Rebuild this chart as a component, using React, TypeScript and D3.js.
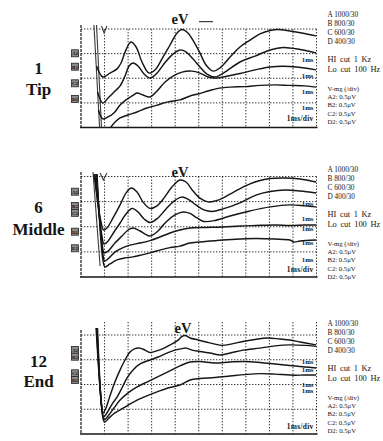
import React from "react";
import * as d3 from "d3";

const W = 383;
const H = 441;

// x: time in ms (1 ms/div, 10 divisions); y: amplitude in divisions (0.5 µV/div)
const xTicks = [0, 1, 2, 3, 4, 5, 6, 7, 8, 9, 10];
const yTicks = [0, 1, 2, 3, 4];

const legendLines = [
  "A 1000/30", "B 800/30", "C 600/30", "D 400/30",
  "HI cut 1 Kz", "Lo cut 100 Hz",
  "V-mg (/div)", "A2: 0.5μV", "B2: 0.5μV", "C2: 0.5μV", "D2: 0.5μV",
];
const panelNumbers = ["1", "6", "12"];
const panelNames = ["Tip", "Middle", "End"];
const msLabel = "1ms";
const msDivLabel = "1ms/div";
const peakLabel = "eV";

type P = [number, number];

// ---- Panel 1 : Tip ----
const tipA: P[] = [[0.66,2.50],[0.93,2.05],[1.23,2.21],[1.53,2.38],[1.70,2.62],[1.91,3.15],[2.12,3.47],[2.34,3.27],[2.59,2.66],[2.89,2.21],[3.18,2.38],[3.48,2.86],[3.78,3.35],[4.08,3.84],[4.29,3.98],[4.54,3.84],[4.80,3.47],[5.05,3.03],[5.31,2.54],[5.61,2.29],[5.90,2.42],[6.33,2.86],[6.75,3.27],[7.18,3.55],[7.60,3.80],[8.03,3.94],[8.37,3.98],[8.87,3.92],[9.38,3.84],[9.98,3.72]];
const tipB: P[] = [[0.70,1.44],[0.93,0.99],[1.15,1.20],[1.40,1.44],[1.66,1.69],[1.87,2.09],[2.04,2.50],[2.21,2.62],[2.42,2.50],[2.68,2.17],[2.93,2.01],[3.23,2.21],[3.52,2.58],[3.86,2.94],[4.20,3.15],[4.46,3.07],[4.76,2.78],[5.05,2.46],[5.35,2.17],[5.69,2.05],[6.11,2.25],[6.75,2.66],[7.39,2.90],[8.03,3.15],[8.58,3.25],[9.30,3.17],[9.98,3.03]];
const tipC: P[] = [[0.74,0.71],[0.93,0.35],[1.15,0.43],[1.40,0.59],[1.66,0.91],[1.91,1.12],[2.17,1.28],[2.38,1.40],[2.63,1.32],[2.93,1.24],[3.23,1.48],[3.57,1.85],[3.91,2.09],[4.29,2.25],[4.71,2.29],[5.05,2.21],[5.39,2.05],[5.73,2.01],[6.24,2.09],[6.75,2.19],[7.39,2.34],[8.03,2.46],[8.87,2.48],[9.51,2.42],[9.98,2.34]];
const tipD: P[] = [[1.27,0.02],[1.49,0.26],[1.66,0.39],[2.00,0.51],[2.38,0.63],[2.80,0.79],[3.23,0.91],[3.69,1.04],[4.20,1.12],[4.63,1.28],[4.97,1.36],[5.39,1.48],[5.77,1.58],[6.33,1.64],[6.96,1.66],[7.60,1.71],[8.24,1.73],[8.87,1.71],[9.51,1.69],[9.98,1.64]];
const tipArtifact1: P[] = [[0.55,4.16],[0.79,0]];
const tipArtifact2: P[] = [[0.66,4.16],[0.87,0]];
const tipSpike: P[] = [[0.87,4.12],[0.98,3.84],[1.10,4.12]];

// ---- Panel 2 : Middle ----
const midA: P[] = [[0.55,4.10],[0.85,2.19],[0.96,1.87],[1.10,1.95],[1.36,2.35],[1.66,2.87],[1.91,3.34],[2.14,3.54],[2.38,3.38],[2.63,2.99],[2.93,2.73],[3.23,2.83],[3.52,3.14],[3.86,3.58],[4.20,3.86],[4.46,3.78],[4.76,3.42],[5.05,3.14],[5.39,2.99],[5.82,3.06],[6.33,3.30],[6.96,3.62],[7.52,3.82],[8.03,3.92],[8.66,3.94],[9.30,3.90],[9.98,3.78]];
const midB: P[] = [[0.59,4.10],[0.89,1.63],[0.98,1.31],[1.15,1.43],[1.40,1.79],[1.66,2.15],[1.91,2.51],[2.17,2.73],[2.42,2.59],[2.68,2.31],[2.93,2.17],[3.27,2.35],[3.61,2.71],[3.95,3.02],[4.27,3.18],[4.54,3.10],[4.88,2.87],[5.22,2.67],[5.56,2.61],[6.03,2.71],[6.75,2.95],[7.43,3.26],[8.03,3.40],[8.66,3.46],[9.30,3.42],[9.98,3.34]];
const midC: P[] = [[0.64,4.10],[0.91,1.23],[0.98,0.96],[1.15,1.03],[1.44,1.35],[1.74,1.63],[2.00,1.87],[2.21,1.95],[2.51,1.83],[2.93,1.63],[3.27,1.83],[3.61,2.19],[3.99,2.47],[4.33,2.59],[4.63,2.53],[4.93,2.35],[5.22,2.21],[5.69,2.25],[6.33,2.43],[7.18,2.63],[8.03,2.79],[8.87,2.87],[9.51,2.83],[9.98,2.79]];
const midD: P[] = [[0.66,4.10],[0.93,0.92],[1.00,0.64],[1.19,0.76],[1.44,0.99],[1.74,1.15],[2.08,1.27],[2.51,1.35],[2.93,1.45],[3.35,1.59],[3.78,1.75],[4.20,1.87],[4.63,1.95],[5.27,1.97],[6.03,1.99],[6.75,2.03],[7.43,2.05],[8.24,2.07],[8.87,2.05],[9.51,2.07],[9.98,2.07]];
const midE: P[] = [[0.68,4.10],[0.93,0.68],[1.02,0.40],[1.23,0.52],[1.53,0.68],[1.87,0.76],[2.21,0.80],[2.59,0.88],[2.93,0.96],[3.35,1.07],[3.78,1.17],[4.20,1.23],[4.63,1.35],[5.27,1.41],[6.03,1.47],[6.75,1.51],[7.43,1.53],[8.24,1.51],[8.87,1.47],[9.04,1.39],[9.30,1.43],[9.98,1.47]];
const midArtifact: P[] = [[0.51,4.18],[0.81,0.44]];
const midSpike: P[] = [[0.81,4.14],[0.95,3.86],[1.10,4.14]];

// ---- Panel 3 : End ----
const endA: P[] = [[0.64,4.28],[0.85,1.37],[0.93,0.85],[1.06,1.05],[1.23,1.54],[1.44,2.10],[1.66,2.59],[1.87,2.99],[2.08,3.31],[2.29,3.45],[2.51,3.47],[2.72,3.39],[2.93,3.29],[3.18,3.35],[3.48,3.45],[3.78,3.60],[4.08,3.76],[4.29,3.94],[4.42,3.98],[4.63,3.88],[4.97,3.80],[5.31,3.72],[5.65,3.64],[5.99,3.58],[6.41,3.64],[6.88,3.74],[7.39,3.82],[7.90,3.88],[8.45,3.84],[8.87,3.80],[9.30,3.72],[9.98,3.60]];
const endB: P[] = [[0.66,4.28],[0.87,1.21],[0.96,0.69],[1.10,0.85],[1.32,1.21],[1.53,1.49],[1.74,1.86],[1.95,2.26],[2.21,2.59],[2.51,2.83],[2.93,2.99],[3.27,3.11],[3.65,3.27],[3.99,3.39],[4.29,3.45],[4.46,3.47],[4.71,3.39],[5.05,3.33],[5.48,3.27],[5.94,3.19],[6.41,3.29],[6.88,3.39],[7.60,3.47],[8.24,3.56],[8.87,3.60],[9.51,3.58],[9.98,3.54]];
const endC: P[] = [[0.68,4.28],[0.89,0.97],[0.98,0.57],[1.15,0.73],[1.40,1.05],[1.66,1.37],[2.00,1.66],[2.38,1.90],[2.80,2.10],[3.23,2.30],[3.69,2.51],[4.20,2.75],[4.63,2.91],[5.05,2.93],[5.69,2.87],[6.33,2.91],[6.96,2.93],[7.60,2.89],[8.24,2.83],[8.87,2.77],[9.51,2.71],[9.98,2.67]];
const endD: P[] = [[0.70,4.28],[0.91,0.81],[1.00,0.48],[1.19,0.65],[1.44,0.85],[1.66,0.97],[2.00,1.17],[2.38,1.37],[2.80,1.54],[3.23,1.70],[3.69,1.86],[4.20,1.98],[4.63,2.18],[5.05,2.24],[5.69,2.28],[6.33,2.34],[6.96,2.40],[7.60,2.44],[8.24,2.42],[8.87,2.38],[9.51,2.38],[9.98,2.38]];

const tipTraces = [tipA, tipB, tipC, tipD];
const midTraces = [midA, midB, midC, midD, midE];
const endTraces = [endA, endB, endC, endD];

const tipChannels = ["A2", "B2", "C2", "D2"];
const midChannels = ["A2", "B2", "C2", "D2", "E2"];
const endChannels = ["A2", "B2", "C2", "D2"];

// ---- layout (pixels) ----
const panels = [
  {
    top: 29, bottom: 127.5, traces: tipTraces, artifacts: [tipArtifact1, tipArtifact2, tipSpike],
    channels: tipChannels, boxY: [53.3, 66.7, 83.3, 99],
    msY: [60, 75.7, 91.7, 107.3], msDivY: 118.3,
    eV: [180, 24], legendY: 14, numY: 74, nameY: 95, gridExtra: 0, axisTop: 25,
  },
  {
    top: 176.5, bottom: 277, traces: midTraces, artifacts: [midArtifact, midSpike],
    channels: midChannels, boxY: [191.7, 206, 212.8, 231.7, 248.3],
    msY: [203.3, 219, 228.3, 243, 259.3], msDivY: 269,
    eV: [180, 176.5], legendY: 169, numY: 213.3, nameY: 234.5, gridExtra: 0, axisTop: 172,
  },
  {
    top: 335, bottom: 434, traces: endTraces, artifacts: [],
    channels: endChannels, boxY: [350, 356.7, 373.3, 380],
    msY: [361.7, 370, 385, 391], msDivY: 426.7,
    eV: [183, 332.5], legendY: 323.3, numY: 367.3, nameY: 386.7, gridExtra: 13, axisTop: 330,
  },
];

const legendOffsets = [0, 9.2, 18.3, 27.4, 45, 55, 74.2, 82.6, 90.7, 99.2, 107.4];
const legendSizes = [7.3, 7.3, 7.3, 7.3, 8.4, 8.4, 6.7, 6.7, 6.7, 6.7, 6.7];

const ink = "#161616";
const gridColor = "#333";
const serif = "'Liberation Serif', 'DejaVu Serif', serif";

export default function App() {
  const x = d3.scaleLinear().domain([0, 10]).range([81, 316.5]);

  return (
    <svg
      width={W}
      height={H}
      style={{ position: "absolute", left: 0, top: 0, background: "#fff" }}
      fontFamily={serif}
    >
      <rect x={0} y={0} width={W} height={H} fill="#fff" />
      {panels.map((p, pi) => {
        const y = d3.scaleLinear().domain([0, 4]).range([p.bottom, p.top]);
        const line = d3
          .line<P>()
          .x((d) => x(d[0]))
          .y((d) => y(d[1]))
          .curve(d3.curveCatmullRom.alpha(0.5));
        const straight = d3
          .line<P>()
          .x((d) => x(d[0]))
          .y((d) => y(d[1]));
        const x0 = x(0);
        const x1 = x(10);
        return (
          <g key={pi}>
            {/* grid */}
            {yTicks.slice(1).map((t) => (
              <line
                key={"h" + t}
                x1={x0}
                x2={x1}
                y1={y(t)}
                y2={y(t)}
                stroke={gridColor}
                strokeWidth={1}
                strokeDasharray="1.4 1.6"
              />
            ))}
            {xTicks.slice(1).map((t) => (
              <line
                key={"v" + t}
                x1={x(t)}
                x2={x(t)}
                y1={y(4) - p.gridExtra}
                y2={y(0)}
                stroke={gridColor}
                strokeWidth={1}
                strokeDasharray="1.4 1.6"
              />
            ))}
            {/* left axis */}
            <line x1={x0} x2={x0} y1={p.axisTop} y2={y(0)} stroke={ink} strokeWidth={1.2} strokeDasharray="3 1" />
            {/* bottom axis */}
            <line x1={x0 - 1} x2={x1 + 1} y1={y(0)} y2={y(0)} stroke={ink} strokeWidth={1.5} />

            {/* stimulus artifact */}
            {p.artifacts.map((a, ai) => (
              <path key={"a" + ai} d={straight(a) || ""} fill="none" stroke="#3a3a3a" strokeWidth={1.1} />
            ))}

            {/* traces */}
            {p.traces.map((tr, ti) => (
              <path key={"t" + ti} d={line(tr) || ""} fill="none" stroke={ink} strokeWidth={1.45} strokeLinejoin="round" />
            ))}

            {/* channel boxes */}
            {p.channels.map((c, ci) => (
              <g key={"c" + ci}>
                <rect x={71.5} y={p.boxY[ci] - 3.5} width={7} height={7} fill="#8a8a8a" stroke="#222" strokeWidth={0.8} />
                <text x={75} y={p.boxY[ci] + 2} fontSize={5} textAnchor="middle" fill="#111" fontWeight="bold">
                  {c}
                </text>
              </g>
            ))}

            {/* 1ms labels */}
            {p.msY.map((yy, mi) => (
              <text key={"m" + mi} x={313.5} y={yy + 2.4} fontSize={6.8} fontWeight="bold" textAnchor="end" fill={ink}>
                {msLabel}
              </text>
            ))}
            <text x={313.5} y={p.msDivY + 2.6} fontSize={7.4} fontWeight="bold" textAnchor="end" fill={ink} letterSpacing={0.3}>
              {msDivLabel}
            </text>

            {/* eV */}
            <text x={p.eV[0]} y={p.eV[1]} fontSize={14.5} fontWeight="bold" textAnchor="middle" fill={ink}>
              {peakLabel}
            </text>
            {pi === 0 && <line x1={199} x2={213} y1={21.7} y2={21.7} stroke={ink} strokeWidth={1} />}

            {/* panel labels */}
            <text x={38.5} y={p.numY} fontSize={17} fontWeight="bold" textAnchor="middle" fill={ink}>
              {panelNumbers[pi]}
            </text>
            <text x={38.5} y={p.nameY} fontSize={17} fontWeight="bold" textAnchor="middle" fill={ink}>
              {panelNames[pi]}
            </text>

            {/* legend */}
            {legendLines.map((s, li) => (
              <text
                key={"l" + li}
                x={327.5}
                y={p.legendY + legendOffsets[li] + legendSizes[li] * 0.35}
                fontSize={legendSizes[li]}
                fill={ink}
                style={{ whiteSpace: "pre" }}
                wordSpacing={li === 4 || li === 5 ? 1.5 : 0}
              >
                {s}
              </text>
            ))}
          </g>
        );
      })}
    </svg>
  );
}
